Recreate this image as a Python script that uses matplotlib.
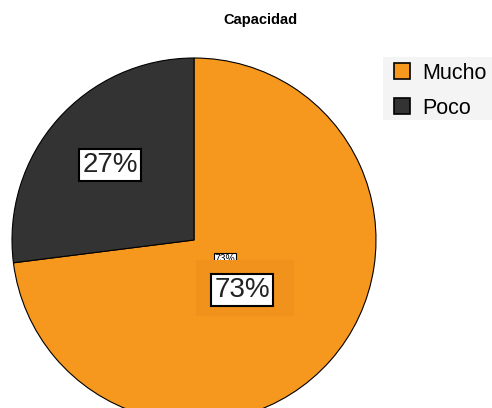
import matplotlib
matplotlib.use("Agg")
import matplotlib.pyplot as plt
from matplotlib.patches import Rectangle

categories = ["Mucho", "Poco"]
values = [73, 27]
colors = ["#F7981E", "#333333"]
title = "Capacidad"

W, H = 492, 408
fig = plt.figure(figsize=(W / 100, H / 100), dpi=100)
ax = fig.add_axes([0, 0, 1, 1])

cx, cy, r = 194, H - 240, 182
wedges, _ = ax.pie(values, colors=colors, startangle=90, counterclock=False,
                   center=(cx, cy), radius=r,
                   wedgeprops=dict(edgecolor="black", linewidth=0.8))
ax.set_xlim(0, W)
ax.set_ylim(0, H)
ax.set_aspect("equal")
ax.axis("off")

font = "Liberation Sans"
box = dict(boxstyle="square,pad=0.12", facecolor="white", edgecolor="black", linewidth=1.5)

# small overlapped label
ax.text(225, H - 259, f"{values[0]}%", fontsize=7.5, family=font, ha="center", va="center",
        bbox=dict(boxstyle="square,pad=0.1", facecolor="white", edgecolor="black", linewidth=0.8), zorder=3)
ax.add_patch(Rectangle((196, H - 316), 98, 56, facecolor="#F1921C", edgecolor="none", zorder=4))

ax.text(242, H - 290, f"{values[0]}%", fontsize=20, family=font, ha="center", va="center",
        color="#222222", bbox=box, zorder=5)
ax.text(110, H - 165, f"{values[1]}%", fontsize=20, family=font, ha="center", va="center",
        color="#222222", bbox=box, zorder=5)

fig.text(260 / W, 1 - 20 / H, title, fontsize=10.5, fontweight="bold", family=font,
         ha="center", va="center")

# legend background
ax.add_patch(Rectangle((383, H - 120), W - 383, 63, facecolor="#F4F4F4", edgecolor="none", zorder=6))

leg = fig.legend(wedges, categories, loc="upper left", bbox_to_anchor=(383 / W, 1 - 52 / H),
                 frameon=False, handlelength=0.75, handleheight=0.75, handletextpad=0.55,
                 labelspacing=0.65, borderpad=0.5, borderaxespad=0,
                 prop=dict(family=font, size=15.5))
leg.set_zorder(7)
for h in leg.legend_handles:
    h.set_edgecolor("black")
    h.set_linewidth(1.2)

fig.savefig("out.png", dpi=100)
